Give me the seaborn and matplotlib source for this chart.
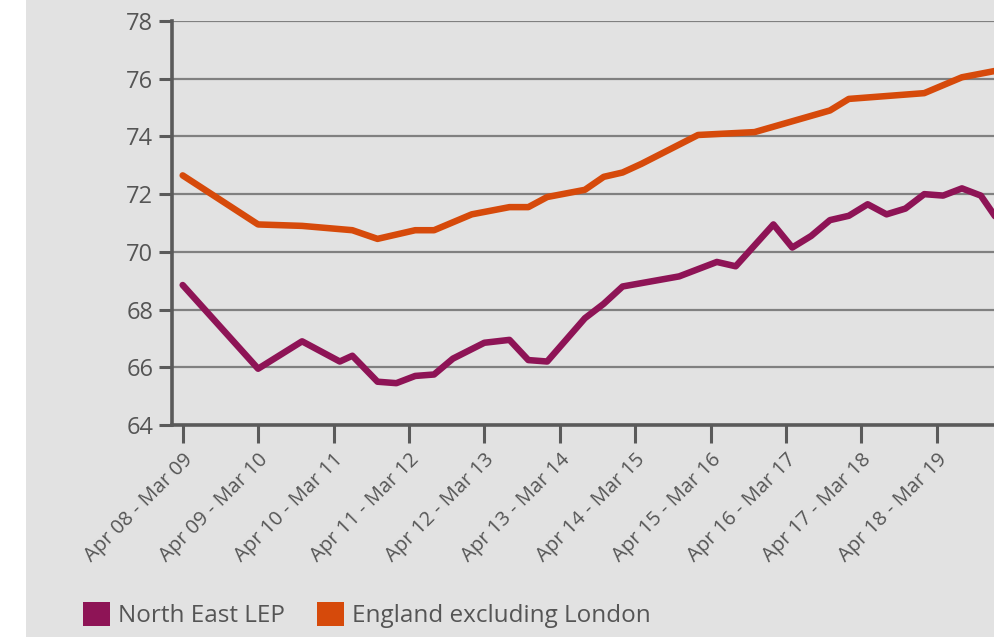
import matplotlib
matplotlib.use("Agg")
import matplotlib.pyplot as plt
from matplotlib.patches import Patch, Rectangle
import pandas as pd
import seaborn as sns

# rolling 12-month employment rate (%), x = months after the Apr 08 - Mar 09 period
nel_month = [0, 12, 19, 25, 27, 31, 34, 37, 40, 43, 48, 52, 55, 58, 64, 67, 70, 79, 85, 88,
             94, 97, 100, 103, 106, 109, 112, 115, 118, 121, 124, 127, 130]
nel_rate = [68.85, 65.95, 66.9, 66.2, 66.4, 65.5, 65.45, 65.7, 65.75, 66.3, 66.85, 66.95, 66.25,
            66.2, 67.7, 68.2, 68.8, 69.15, 69.65, 69.5, 70.95, 70.15, 70.55, 71.1, 71.25, 71.65,
            71.3, 71.5, 72.0, 71.95, 72.2, 71.95, 71.0]

eng_month = [0, 12, 19, 27, 31, 37, 40, 46, 52, 55, 58, 64, 67, 70, 73, 82, 91, 103, 106, 118,
             124, 130]
eng_rate = [72.65, 70.95, 70.9, 70.75, 70.45, 70.75, 70.75, 71.3, 71.55, 71.55, 71.9, 72.15,
            72.6, 72.75, 73.05, 74.05, 74.15, 74.9, 75.3, 75.5, 76.05, 76.3]

tick_months = [0, 12, 24, 36, 48, 60, 72, 84, 96, 108, 120]
tick_labels = ["Apr 08 - Mar 09", "Apr 09 - Mar 10", "Apr 10 - Mar 11", "Apr 11 - Mar 12",
               "Apr 12 - Mar 13", "Apr 13 - Mar 14", "Apr 14 - Mar 15", "Apr 15 - Mar 16",
               "Apr 16 - Mar 17", "Apr 17 - Mar 18", "Apr 18 - Mar 19"]
series_names = ["North East LEP", "England excluding London"]
colors = ["#8e1456", "#d64a0b"]

df = pd.concat([
    pd.DataFrame({"month": nel_month, "rate": nel_rate, "area": series_names[0]}),
    pd.DataFrame({"month": eng_month, "rate": eng_rate, "area": series_names[1]}),
])

bg = "#e2e2e2"
txt = "#555555"
plt.rcParams["font.family"] = ["Open Sans", "DejaVu Sans"]

fig = plt.figure(figsize=(9.94, 6.37), dpi=100, facecolor=bg)
fig.patches.append(Rectangle((0, 0), 26 / 994, 1, transform=fig.transFigure,
                             facecolor="white", edgecolor="none", zorder=-1))
ax = fig.add_axes([172 / 994, 212 / 637, 822 / 994, 404 / 637])
ax.set_facecolor(bg)

sns.lineplot(data=df, x="month", y="rate", hue="area", palette=colors,
             linewidth=4.7, legend=False, ax=ax, solid_capstyle="round",
             solid_joinstyle="round", zorder=3)

ax.set_ylim(64, 78)
ax.set_yticks(range(64, 79, 2))
ax.set_xlim(-1.7, 129.1)
ax.set_xticks(tick_months)
ax.set_xticklabels(tick_labels, rotation=45, ha="right", va="top",
                   rotation_mode="anchor", fontsize=14.5, color=txt)
ax.set_xlabel("")
ax.set_ylabel("")

ax.grid(axis="y", color="#808080", linewidth=1.6)
ax.grid(axis="x", visible=False)
ax.set_axisbelow(True)
for s in ["top", "right"]:
    ax.spines[s].set_visible(False)
for s in ["left", "bottom"]:
    ax.spines[s].set_color("#5a5a5a")
    ax.spines[s].set_linewidth(2.6)
ax.tick_params(axis="y", length=9.5, width=2.2, color="#5a5a5a", labelsize=17,
               labelcolor=txt, pad=4)
ax.tick_params(axis="x", length=13, width=2.2, color="#5a5a5a", pad=5)

handles = [Patch(facecolor=c, edgecolor="none") for c in colors]
fig.legend(handles, series_names, loc="center left", bbox_to_anchor=(83 / 994, 22 / 637),
           ncol=2, frameon=False, fontsize=17.5, labelcolor=txt, handlelength=1.12,
           handleheight=1.12, handletextpad=0.33, columnspacing=1.3, borderpad=0,
           borderaxespad=0)

fig.savefig("out.png", dpi=100, facecolor=bg)
